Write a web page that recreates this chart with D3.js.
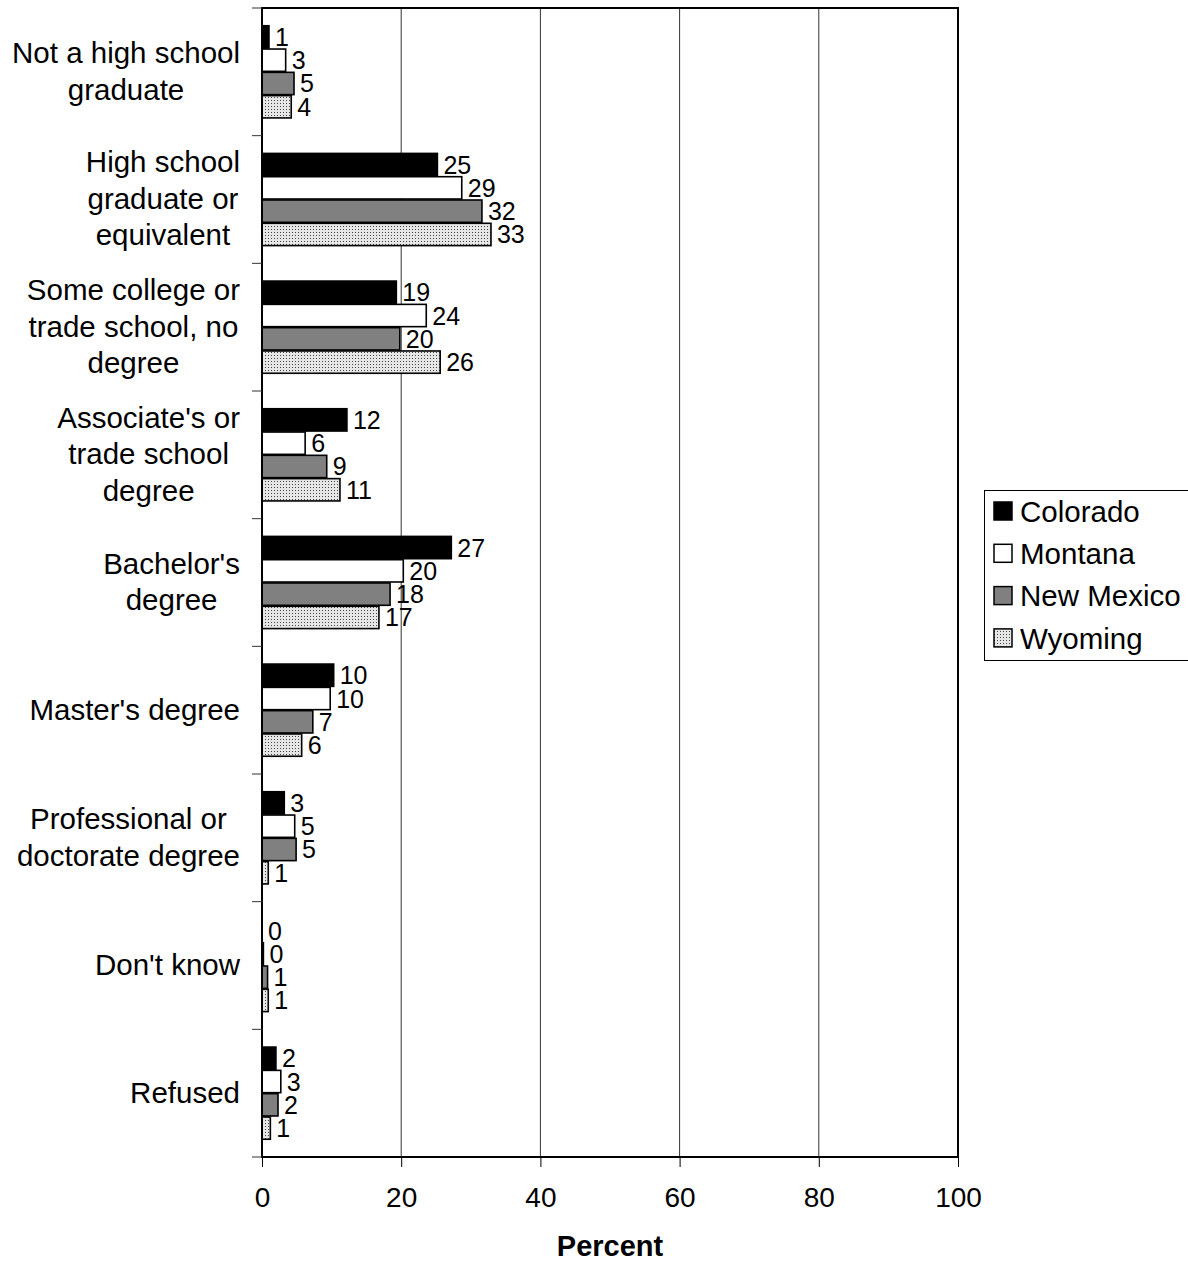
<!DOCTYPE html>
<html><head><meta charset="utf-8">
<script src="https://cdn.jsdelivr.net/npm/d3@7"></script>
<style>body{margin:0;background:#fff;} svg{display:block;font-family:"Liberation Sans",Arial,sans-serif;}</style>
</head><body>
<svg id="c" width="1188" height="1265"></svg>
<script>
const categories = [
  ["Not a high school","graduate"],
  ["High school","graduate or","equivalent"],
  ["Some college or","trade school, no","degree"],
  ["Associate's or","trade school","degree"],
  ["Bachelor's","degree"],
  ["Master's degree"],
  ["Professional or","doctorate degree"],
  ["Don't know"],
  ["Refused"]
];
const seriesNames = ["Colorado","Montana","New Mexico","Wyoming"];
const colorado  = [1.0, 25.2, 19.3, 12.2, 27.2, 10.3, 3.2, 0.0, 2.0];
const montana   = [3.4, 28.7, 23.6, 6.2, 20.3, 9.8, 4.7, 0.2, 2.7];
const newMexico = [4.6, 31.6, 19.8, 9.3, 18.4, 7.3, 4.9, 0.8, 2.3];
const wyoming   = [4.2, 32.9, 25.6, 11.2, 16.8, 5.7, 0.9, 0.9, 1.2];
const xTicks = [0,20,40,60,80,100];
const series = [colorado, montana, newMexico, wyoming];

const svg = d3.select("#c");
const L = 262, R = 958, T = 8, B = 1157;

const defs = svg.append("defs");
const pat = defs.append("pattern").attr("id","dots").attr("patternUnits","userSpaceOnUse")
  .attr("width",3).attr("height",3);
pat.append("rect").attr("width",3).attr("height",3).attr("fill","#e6e6e6");
pat.append("rect").attr("x",1).attr("y",1).attr("width",1).attr("height",1).attr("fill","#444");
const fills = ["#000000","#ffffff","#808080","url(#dots)"];

const x = d3.scaleLinear().domain([0,100]).range([L,R]);
const y0 = d3.scaleBand().domain(d3.range(categories.length)).range([T,B]).paddingInner(0.27).paddingOuter(0.135);
const y1 = d3.scaleBand().domain(d3.range(series.length)).range([0,y0.bandwidth()]);
const bandStep = (B-T)/categories.length;

// gridlines
svg.append("g").selectAll("line").data(xTicks.filter(d=>d>0&&d<100)).join("line")
  .attr("x1",d=>x(d)).attr("x2",d=>x(d)).attr("y1",T).attr("y2",B)
  .attr("stroke","#333").attr("stroke-width",1);

// bars
const g = svg.append("g");
categories.forEach((c,i)=>{
  series.forEach((s,j)=>{
    const v = s[i];
    const yy = y0(i)+y1(j);
    if (v > 0.05) {
      g.append("rect").attr("x",x(0)).attr("y",yy+0.5).attr("width",x(v)-x(0)).attr("height",y1.bandwidth()-1)
        .attr("fill",fills[j]).attr("stroke","#000").attr("stroke-width",1.6);
    }
    g.append("text").attr("x",x(v)+6).attr("y",yy+y1.bandwidth()/2).attr("dy","0.36em")
      .attr("font-size",25).attr("fill","#000").text(Math.round(v));
  });
});

// frame
svg.append("rect").attr("x",L).attr("y",T).attr("width",R-L).attr("height",B-T)
  .attr("fill","none").attr("stroke","#000").attr("stroke-width",2);

// left ticks
svg.append("g").selectAll("line").data(d3.range(categories.length+1)).join("line")
  .attr("x1",252).attr("x2",L).attr("y1",d=>T+d*bandStep).attr("y2",d=>T+d*bandStep)
  .attr("stroke","#333").attr("stroke-width",1);

// x axis
const xa = svg.append("g").attr("transform",`translate(0,${B})`)
  .call(d3.axisBottom(x).tickValues(xTicks).tickSize(10).tickPadding(20).tickFormat(d3.format("d")));
xa.select(".domain").remove();
xa.selectAll("line").attr("stroke","#000");
xa.selectAll("text").attr("font-size",28).attr("font-family","Liberation Sans, Arial, sans-serif").attr("fill","#000");

svg.append("text").attr("x",610).attr("y",1256).attr("text-anchor","middle")
  .attr("font-size",29).attr("font-weight","bold").text("Percent");

// category labels
const lh = 36.5;
categories.forEach((lines,i)=>{
  const cy = T + (i+0.5)*bandStep;
  const grp = svg.append("g");
  const ts = lines.map((ln,k)=> grp.append("text").attr("font-size",29.5).attr("fill","#000")
      .attr("y", cy + (k-(lines.length-1)/2)*lh).attr("dy","0.32em").text(ln));
  const maxW = d3.max(ts, t=>t.node().getComputedTextLength());
  const cx = 240 - maxW/2;
  ts.forEach(t=>t.attr("x",cx).attr("text-anchor","middle"));
});

// legend
const lg = svg.append("g");
lg.append("rect").attr("x",984.5).attr("y",490.5).attr("width",210).attr("height",170)
  .attr("fill","#fff").attr("stroke","#000").attr("stroke-width",1);
seriesNames.forEach((n,j)=>{
  const cy = 511 + j*42.3;
  lg.append("rect").attr("x",994).attr("y",cy-9).attr("width",18).attr("height",18)
    .attr("fill",fills[j]).attr("stroke","#000").attr("stroke-width",1.5);
  lg.append("text").attr("x",1020).attr("y",cy).attr("dy","0.36em").attr("font-size",29.5).text(n);
});
</script>
</body></html>
